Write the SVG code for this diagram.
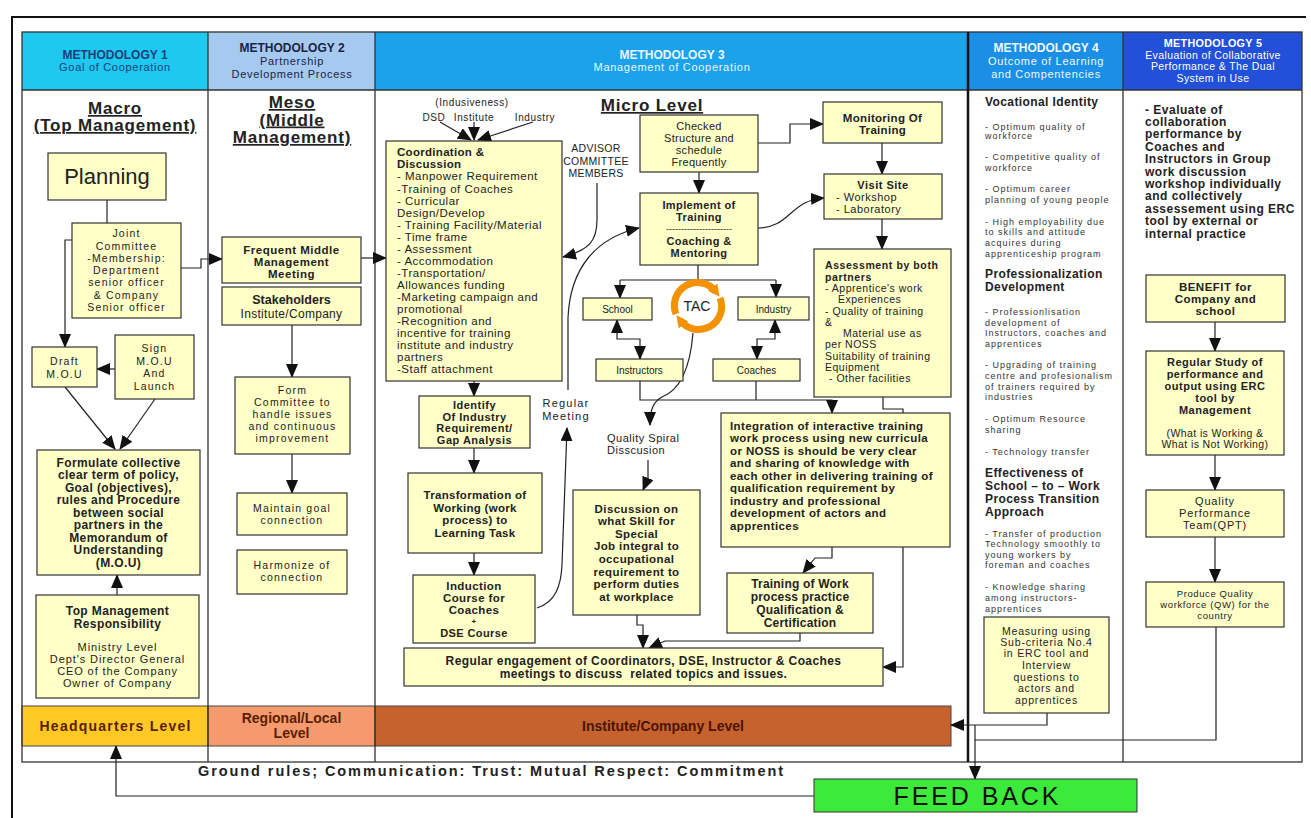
<svg xmlns="http://www.w3.org/2000/svg" width="1311" height="818" viewBox="0 0 1311 818">
<style>
text{font-family:"Liberation Sans",Arial,sans-serif;fill:#222}
.m{text-anchor:middle}
.b{font-weight:bold}
.bx{fill:#FFFFC8;stroke:#333;stroke-width:1.2}
.ln{fill:none;stroke:#222;stroke-width:1.2}
.a{marker-end:url(#ah)}
.a2{marker-start:url(#ah);marker-end:url(#ah)}
.sm{font-size:10.5px;letter-spacing:1.2px}
.c4{font-size:9px;letter-spacing:1px;fill:#333}
.c4h{font-size:12px;font-weight:bold;letter-spacing:0.4px}
.hd{font-size:12px;font-weight:bold}
.hs{font-size:11px;letter-spacing:0.7px}
.big{font-size:17px;font-weight:bold;text-decoration:underline;letter-spacing:0.8px}
.lv{font-size:14px;font-weight:bold;fill:#5a1e05}
.grid{stroke:#333;stroke-width:1.3;fill:none}
</style>
<defs>
<marker id="ah" viewBox="0 0 14 12" refX="13" refY="6" markerWidth="14" markerHeight="12" markerUnits="userSpaceOnUse" orient="auto-start-reverse"><path d="M0,0 L14,6 L0,12 z" fill="#111"/></marker>
<marker id="oh" viewBox="0 0 10 10" refX="5" refY="5" markerWidth="12" markerHeight="12" markerUnits="userSpaceOnUse" orient="auto"><path d="M0,0 L10,5 L0,10 z" fill="#F39200"/></marker>
</defs>
<rect width="1311" height="818" fill="#fff"/>
<path d="M12,818 V17 H1306" stroke="#111" stroke-width="2" fill="none"/>

<g id="table">
<rect x="22" y="32" width="186" height="58" fill="#1EC8EE"/>
<rect x="208" y="32" width="167" height="58" fill="#A6C9F0"/>
<rect x="375" y="32" width="593" height="58" fill="#1AA2EA"/>
<rect x="968" y="32" width="155" height="58" fill="#1B8EE6"/>
<rect x="1123" y="32" width="179" height="58" fill="#2350D8"/>
<rect x="22" y="706" width="186" height="40" fill="#FFC824" stroke="#444"/>
<rect x="208" y="706" width="167" height="40" fill="#F49A6C" stroke="#444"/>
<rect x="375" y="706" width="576" height="40" fill="#C6622D" stroke="#444"/>
<rect x="22" y="32" width="1280" height="730" class="grid"/>
<path class="grid" d="M22,90 H1302 M208,32 V762 M375,32 V762 M1123,32 V762"/>
<path d="M968,32 V762" stroke="#111" stroke-width="2.5"/>
</g>

<g id="headers">
<text class="hd m" x="115" y="59" style="fill:#1d3f7a">METHODOLOGY 1</text>
<text class="hs m" x="115" y="71" style="fill:#1d3f7a">Goal of Cooperation</text>
<text class="hd m" x="292" y="52" style="fill:#1a2346">METHODOLOGY 2</text>
<text class="hs m" x="292" y="65" style="fill:#1a2346">Partnership</text>
<text class="hs m" x="292" y="77.5" style="fill:#1a2346">Development Process</text>
<text class="hd m" x="672" y="59" style="fill:#eaf6ff">METHODOLOGY 3</text>
<text class="hs m" x="672" y="71" style="fill:#eaf6ff">Management of Cooperation</text>
<text class="hd m" x="1046" y="52" style="fill:#eef8ff">METHODOLOGY 4</text>
<text class="hs m" x="1046" y="65" style="fill:#eef8ff">Outcome of Learning</text>
<text class="hs m" x="1046" y="77.5" style="fill:#eef8ff">and Compentencies</text>
<text class="m b" x="1213" y="47" style="font-size:10.8px;fill:#fff;letter-spacing:0.3px">METHODOLOGY 5</text>
<text class="m" style="font-size:10.5px;fill:#fff;letter-spacing:0.4px"><tspan x="1213" y="58.5">Evaluation of Collaborative</tspan><tspan x="1213" y="70">Performance &amp; The Dual</tspan><tspan x="1213" y="81.5">System in Use</tspan></text>
</g>

<g id="level-titles">
<text class="big m" x="115" y="114">Macro</text>
<text class="big m" x="115" y="131">(Top Management)</text>
<text class="big m" x="292" y="108">Meso</text>
<text class="big m" x="292" y="125.5">(Middle</text>
<text class="big m" x="292" y="143">Management)</text>
<text class="big m" x="652" y="111">Micro Level</text>
</g>

<g id="connectors">
<path class="ln" d="M107,200 V223"/>
<path class="ln a" d="M72,240 H65 V347"/>
<path class="ln a" d="M181,268 H201 V259 H222"/>
<path class="ln a" d="M115,369 H97"/>
<path class="ln a" d="M65,387 L115,449"/>
<path class="ln a" d="M155,399 L120,449"/>
<path class="ln a" d="M117,595 V575"/>
<path class="ln a" d="M361,258 H386"/>
<path class="ln a" d="M292,325 V377"/>
<path class="ln a" d="M292,454 V493"/>
<path class="ln a" d="M440,122 L471,140"/>
<path class="ln a" d="M474,122 V140"/>
<path class="ln a" d="M533,122 L478,140"/>
<path class="ln a" d="M474,381 V396"/>
<path class="ln a" d="M474,448 V473"/>
<path class="ln a" d="M474,553 V575"/>
<path class="ln a" d="M597,183 V220 C597,240 590,250 563,257"/>
<path class="ln a" d="M568,390 V318 C570,268 596,238 639,228"/>
<path class="ln a" d="M537,608 C556,602 561,585 562,565 L567,428"/>
<path class="ln a" d="M699,172 V193"/>
<path class="ln a" d="M758,143 H790 V124 H823"/>
<path class="ln a" d="M882,143 V174"/>
<path class="ln a" d="M758,228 C790,228 790,200 824,198"/>
<path class="ln a" d="M882,219 V249"/>
<path class="ln" d="M698,265 V280 M620,280 H776"/>
<path class="ln a" d="M620,280 V298"/>
<path class="ln a" d="M776,280 V297"/>
<path class="ln a2" d="M617,320 V339 H640 V359"/>
<path class="ln a2" d="M775,320 V339 H757 V359"/>
<path class="ln a" d="M640,381 V400 H832 V413"/>
<path class="ln" d="M756,381 V400"/>
<path class="ln a" d="M693,333 C690,370 680,390 662,397 C653,402 650,410 650,425"/>
<path class="ln a" d="M648,460 V478 L643,490"/>
<path class="ln a" d="M637,615 V625 H643 V648"/>
<path class="ln a" d="M800,633 V641 H665 L649,648"/>
<path class="ln a" d="M832,547 V558 H815 L803,573"/>
<path class="ln a" d="M883,397 V409 H903 V667 H883"/>
<path class="ln a" d="M1215,322 V351"/>
<path class="ln a" d="M1215,455 V490"/>
<path class="ln a" d="M1215,537 V582"/>
<path class="ln a" d="M1047,713 V725 H951"/>
<path class="ln a" d="M1216,627 V740 H975 V779"/>
<path class="ln" d="M975,725 V740"/>
<path class="ln a" d="M814,796 H116 V746"/>
</g>

<g id="n-planning"><rect class="bx" x="48" y="153" width="118" height="47"/><text class="m" x="107" y="184" style="font-size:22px">Planning</text></g>
<g id="n-joint"><rect class="bx" x="72" y="223" width="109" height="95"/>
<text class="sm m"><tspan x="126.5" y="237">Joint</tspan><tspan x="126.5" y="250">Committee</tspan><tspan x="126.5" y="262">-Membership:</tspan><tspan x="126.5" y="274">Department</tspan><tspan x="126.5" y="286">senior officer</tspan><tspan x="126.5" y="298.5">&amp; Company</tspan><tspan x="126.5" y="310.5">Senior officer</tspan></text></g>
<g id="n-draft"><rect class="bx" x="32" y="347" width="65" height="40"/><text class="sm m"><tspan x="64.5" y="365">Draft</tspan><tspan x="64.5" y="378">M.O.U</tspan></text></g>
<g id="n-sign"><rect class="bx" x="115" y="335" width="79" height="64"/><text class="sm m"><tspan x="154.5" y="352">Sign</tspan><tspan x="154.5" y="365">M.O.U</tspan><tspan x="154.5" y="377">And</tspan><tspan x="154.5" y="390">Launch</tspan></text></g>
<g id="n-formulate"><rect class="bx" x="37" y="450" width="163" height="125"/>
<text class="m b" style="font-size:12px;letter-spacing:0.4px"><tspan x="118.5" y="466.5">Formulate collective</tspan><tspan x="118.5" y="479">clear term of policy,</tspan><tspan x="118.5" y="491.5">Goal (objectives),</tspan><tspan x="118.5" y="504">rules and Procedure</tspan><tspan x="118.5" y="516.5">between social</tspan><tspan x="118.5" y="529">partners in the</tspan><tspan x="118.5" y="541.5">Memorandum of</tspan><tspan x="118.5" y="554">Understanding</tspan><tspan x="118.5" y="567">(M.O.U)</tspan></text></g>
<g id="n-topmgmt"><rect class="bx" x="36" y="595" width="163" height="103"/>
<text class="m b" style="font-size:12px;letter-spacing:0.4px"><tspan x="117.5" y="614.5">Top Management</tspan><tspan x="117.5" y="627.5">Responsibility</tspan></text>
<text class="m" style="font-size:11px;letter-spacing:0.9px"><tspan x="117.5" y="651">Ministry Level</tspan><tspan x="117.5" y="663">Dept's Director General</tspan><tspan x="117.5" y="675">CEO of the Company</tspan><tspan x="117.5" y="687">Owner of Company</tspan></text></g>

<g id="n-frequent"><rect class="bx" x="222" y="237" width="139" height="46"/><text class="m b" style="font-size:11.5px;letter-spacing:0.5px"><tspan x="291.5" y="254.4">Frequent Middle</tspan><tspan x="291.5" y="266.4">Management</tspan><tspan x="291.5" y="278.4">Meeting</tspan></text></g>
<g id="n-stakeholders"><rect class="bx" x="222" y="287" width="139" height="38"/><text class="m b" x="291.5" y="303.5" style="font-size:12.5px">Stakeholders</text><text class="m" x="291.5" y="317.5" style="font-size:12px;letter-spacing:0.3px">Institute/Company</text></g>
<g id="n-form"><rect class="bx" x="235" y="377" width="115" height="77"/><text class="sm m"><tspan x="292.5" y="394">Form</tspan><tspan x="292.5" y="406">Committee to</tspan><tspan x="292.5" y="418">handle issues</tspan><tspan x="292.5" y="430">and continuous</tspan><tspan x="292.5" y="442">improvement</tspan></text></g>
<g id="n-maintain"><rect class="bx" x="237" y="493" width="110" height="42"/><text class="sm m"><tspan x="292" y="512">Maintain goal</tspan><tspan x="292" y="524">connection</tspan></text></g>
<g id="n-harmonize"><rect class="bx" x="237" y="550" width="110" height="44"/><text class="sm m"><tspan x="292" y="569">Harmonize of</tspan><tspan x="292" y="581">connection</tspan></text></g>

<g id="n-sources"><text class="m" style="font-size:10px;letter-spacing:0.6px"><tspan x="472" y="105.5">(Indusiveness)</tspan><tspan x="434" y="120.5">DSD</tspan><tspan x="474" y="120.5">Institute</tspan><tspan x="535" y="120.5">Industry</tspan></text></g>
<g id="n-coordination"><rect class="bx" x="386" y="141" width="176" height="240"/>
<text class="b" style="font-size:11.5px;letter-spacing:0.3px"><tspan x="397" y="156.3">Coordination &amp;</tspan><tspan x="397" y="168.4">Discussion</tspan></text>
<text style="font-size:11.5px;letter-spacing:0.5px"><tspan x="397" y="180.4">- Manpower Requirement</tspan><tspan x="397" y="192.5">-Training of Coaches</tspan><tspan x="397" y="204.5">- Curricular</tspan><tspan x="397" y="216.6">Design/Develop</tspan><tspan x="397" y="228.7">- Training Facility/Material</tspan><tspan x="397" y="240.7">- Time frame</tspan><tspan x="397" y="252.8">- Assessment</tspan><tspan x="397" y="264.8">- Accommodation</tspan><tspan x="397" y="276.9">-Transportation/</tspan><tspan x="397" y="289">Allowances funding</tspan><tspan x="397" y="301">-Marketing campaign and</tspan><tspan x="397" y="313.1">promotional</tspan><tspan x="397" y="325.1">-Recognition and</tspan><tspan x="397" y="337.2">incentive for training</tspan><tspan x="397" y="349.3">institute and industry</tspan><tspan x="397" y="361.3">partners</tspan><tspan x="397" y="373.4">-Staff attachment</tspan></text></g>
<g id="n-advisor"><text class="m" style="font-size:10.5px;letter-spacing:0.3px"><tspan x="596" y="152">ADVISOR</tspan><tspan x="596" y="165">COMMITTEE</tspan><tspan x="596" y="177">MEMBERS</tspan></text></g>
<g id="n-regular-meeting"><text class="m" style="font-size:11px;letter-spacing:1.2px"><tspan x="566" y="407">Regular</tspan><tspan x="566" y="420">Meeting</tspan></text></g>
<g id="n-identify"><rect class="bx" x="419" y="396" width="111" height="52"/><text class="m b" style="font-size:11px;letter-spacing:0.5px"><tspan x="474.5" y="409">Identify</tspan><tspan x="474.5" y="420.5">Of Industry</tspan><tspan x="474.5" y="432">Requirement/</tspan><tspan x="474.5" y="443.5">Gap Analysis</tspan></text></g>
<g id="n-transformation"><rect class="bx" x="408" y="473" width="134" height="80"/><text class="m b" style="font-size:11.5px;letter-spacing:0.3px"><tspan x="475" y="499">Transformation of</tspan><tspan x="475" y="511.5">Working (work</tspan><tspan x="475" y="524">process) to</tspan><tspan x="475" y="536.5">Learning Task</tspan></text></g>
<g id="n-induction"><rect class="bx" x="413" y="575" width="122" height="68"/><text class="m b" style="font-size:11.5px;letter-spacing:0.4px"><tspan x="474" y="589.5">Induction</tspan><tspan x="474" y="601.5">Course for</tspan><tspan x="474" y="613.5">Coaches</tspan><tspan x="474" y="623.5" style="font-size:8px">+</tspan><tspan x="474" y="636.5" style="font-size:11px">DSE Course</tspan></text></g>
<g id="n-checked"><rect class="bx" x="640" y="115" width="118" height="57"/><text class="m" style="font-size:11px;letter-spacing:0.3px"><tspan x="699" y="130">Checked</tspan><tspan x="699" y="142">Structure and</tspan><tspan x="699" y="154">schedule</tspan><tspan x="699" y="166">Frequently</tspan></text></g>
<g id="n-implement"><rect class="bx" x="640" y="193" width="118" height="72"/><text class="m b" style="font-size:11px;letter-spacing:0.4px"><tspan x="699" y="209">Implement of</tspan><tspan x="699" y="221">Training</tspan><tspan x="699" y="232" style="font-weight:normal;font-size:9px;letter-spacing:0">----------------------</tspan><tspan x="699" y="245">Coaching &amp;</tspan><tspan x="699" y="257">Mentoring</tspan></text></g>
<g id="n-monitoring"><rect class="bx" x="823" y="102" width="119" height="41"/><text class="m b" style="font-size:11.5px;letter-spacing:0.3px"><tspan x="882.5" y="121.5">Monitoring Of</tspan><tspan x="882.5" y="133.5">Training</tspan></text></g>
<g id="n-visit"><rect class="bx" x="824" y="174" width="118" height="45"/><text class="m b" x="883" y="189" style="font-size:11px;letter-spacing:0.5px">Visit Site</text><text style="font-size:11px;letter-spacing:0.5px"><tspan x="836" y="201">- Workshop</tspan><tspan x="836" y="212.5">- Laboratory</tspan></text></g>
<g id="n-assessment"><rect class="bx" x="814" y="249" width="137" height="148"/>
<text class="b" style="font-size:10.5px;letter-spacing:0.6px"><tspan x="825" y="269">Assessment by both</tspan><tspan x="825" y="280.5">partners</tspan></text>
<text style="font-size:10.5px;letter-spacing:0.5px"><tspan x="825" y="292">- Apprentice's work</tspan><tspan x="838" y="303">Experiences</tspan><tspan x="825" y="314.5">- Quality of training</tspan><tspan x="825" y="325.5">&amp;</tspan><tspan x="843" y="337">Material use as</tspan><tspan x="825" y="348">per NOSS</tspan><tspan x="825" y="359.5">Suitability of training</tspan><tspan x="825" y="371">Equipment</tspan><tspan x="829" y="382">- Other facilities</tspan></text></g>
<g id="n-school"><rect class="bx" x="583" y="298" width="69" height="22"/><text class="m" x="617.5" y="313" style="font-size:10px">School</text></g>
<g id="n-industry"><rect class="bx" x="738" y="297" width="71" height="23"/><text class="m" x="773.5" y="312.5" style="font-size:10px">Industry</text></g>
<g id="n-instructors"><rect class="bx" x="596" y="359" width="87" height="22"/><text class="m" x="639.5" y="374" style="font-size:10px">Instructors</text></g>
<g id="n-coaches"><rect class="bx" x="713" y="359" width="87" height="22"/><text class="m" x="756.5" y="374" style="font-size:10px">Coaches</text></g>
<g id="n-tac">
<path d="M676,314 A23,23 0 0 1 716,292" fill="none" stroke="#F39200" stroke-width="7" marker-end="url(#oh)"/>
<path d="M720,298 A23,23 0 0 1 680,320" fill="none" stroke="#F39200" stroke-width="7" marker-end="url(#oh)"/>
<text class="m" x="697" y="311" style="font-size:14px">TAC</text></g>
<g id="n-quality-spiral"><text style="font-size:11px;letter-spacing:0.5px"><tspan x="607" y="441.5">Quality Spiral</tspan><tspan x="607" y="454">Disscusion</tspan></text></g>
<g id="n-discussion"><rect class="bx" x="573" y="490" width="127" height="125"/><text class="m b" style="font-size:11.5px;letter-spacing:0.4px"><tspan x="636.5" y="512.5">Discussion on</tspan><tspan x="636.5" y="525.1">what Skill for</tspan><tspan x="636.5" y="537.7">Special</tspan><tspan x="636.5" y="550.3">Job integral to</tspan><tspan x="636.5" y="562.9">occupational</tspan><tspan x="636.5" y="575.5">requirement to</tspan><tspan x="636.5" y="588.1">perform duties</tspan><tspan x="636.5" y="600.7">at workplace</tspan></text></g>
<g id="n-integration"><rect class="bx" x="721" y="413" width="229" height="134"/><text class="b" style="font-size:11.5px;letter-spacing:0.4px"><tspan x="730" y="429.5">Integration of interactive training</tspan><tspan x="730" y="442">work process using new curricula</tspan><tspan x="730" y="454.5">or NOSS is should be very clear</tspan><tspan x="730" y="467">and sharing of knowledge with</tspan><tspan x="730" y="479.5">each other in delivering training of</tspan><tspan x="730" y="492">qualification requirement by</tspan><tspan x="730" y="504.5">industry and professional</tspan><tspan x="730" y="517">development of actors and</tspan><tspan x="730" y="529.5">apprentices</tspan></text></g>
<g id="n-training-work"><rect class="bx" x="727" y="573" width="146" height="60"/><text class="m b" style="font-size:12px;letter-spacing:0.2px"><tspan x="800" y="587.5">Training of Work</tspan><tspan x="800" y="600.5">process practice</tspan><tspan x="800" y="613.5">Qualification &amp;</tspan><tspan x="800" y="626.5">Certification</tspan></text></g>
<g id="n-regular-engagement"><rect class="bx" x="404" y="648" width="479" height="38"/><text class="m b" style="font-size:12px;letter-spacing:0.4px" xml:space="preserve"><tspan x="643.5" y="664.5">Regular engagement of Coordinators, DSE, Instructor &amp; Coaches</tspan><tspan x="643.5" y="678">meetings to discuss  related topics and issues.</tspan></text></g>

<g id="n-col4">
<text class="c4h" x="985" y="106">Vocational Identity</text>
<text class="c4"><tspan x="985" y="130">- Optimum quality of</tspan><tspan x="985" y="139">workforce</tspan><tspan x="985" y="160">- Competitive quality of</tspan><tspan x="985" y="171">workforce</tspan><tspan x="985" y="191.6">- Optimum career</tspan><tspan x="985" y="203">planning of young people</tspan><tspan x="985" y="224.5">- High employability due</tspan><tspan x="985" y="235">to skills and attitude</tspan><tspan x="985" y="245.5">acquires during</tspan><tspan x="985" y="256.5">apprenticeship program</tspan></text>
<text class="c4h"><tspan x="985" y="278">Professionalization</tspan><tspan x="985" y="291">Development</tspan></text>
<text class="c4"><tspan x="985" y="315">- Professionlisation</tspan><tspan x="985" y="325.5">development of</tspan><tspan x="985" y="336">Instructors, coaches and</tspan><tspan x="985" y="346.5">apprentices</tspan><tspan x="985" y="368.3">- Upgrading of training</tspan><tspan x="985" y="379">centre and profesionalism</tspan><tspan x="985" y="389.5">of trainers required by</tspan><tspan x="985" y="400">industries</tspan><tspan x="985" y="421.6">- Optimum Resource</tspan><tspan x="985" y="433">sharing</tspan><tspan x="985" y="455">- Technology transfer</tspan></text>
<text class="c4h"><tspan x="985" y="477.3">Effectiveness of</tspan><tspan x="985" y="490.3">School – to – Work</tspan><tspan x="985" y="503">Process Transition</tspan><tspan x="985" y="515.6">Approach</tspan></text>
<text class="c4"><tspan x="985" y="536.6">- Transfer of production</tspan><tspan x="985" y="547">Technology smoothly to</tspan><tspan x="985" y="557.5">young workers by</tspan><tspan x="985" y="568">foreman and coaches</tspan><tspan x="985" y="590">- Knowledge sharing</tspan><tspan x="985" y="601">among instructors-</tspan><tspan x="985" y="611.5">apprentices</tspan></text>
</g>
<g id="n-measuring"><rect class="bx" x="984" y="617" width="125" height="96"/><text class="m" style="font-size:10.5px;letter-spacing:0.8px"><tspan x="1046.5" y="634.7">Measuring using</tspan><tspan x="1046.5" y="645.7">Sub-criteria No.4</tspan><tspan x="1046.5" y="657.3">in ERC tool and</tspan><tspan x="1046.5" y="669">Interview</tspan><tspan x="1046.5" y="680.7">questions to</tspan><tspan x="1046.5" y="691.7">actors and</tspan><tspan x="1046.5" y="704">apprentices</tspan></text></g>

<g id="n-col5"><text class="b" style="font-size:12px;letter-spacing:0.5px"><tspan x="1145" y="113.6">- Evaluate of</tspan><tspan x="1145" y="126">collaboration</tspan><tspan x="1145" y="138.4">performance by</tspan><tspan x="1145" y="150.8">Coaches and</tspan><tspan x="1145" y="163.2">Instructors in Group</tspan><tspan x="1145" y="175.6">work discussion</tspan><tspan x="1145" y="188">workshop individually</tspan><tspan x="1145" y="200.4">and collectively</tspan><tspan x="1145" y="212.8">assessement using ERC</tspan><tspan x="1145" y="225.2">tool by external or</tspan><tspan x="1145" y="237.6">internal practice</tspan></text></g>
<g id="n-benefit"><rect class="bx" x="1146" y="275" width="139" height="47"/><text class="m b" style="font-size:11.5px;letter-spacing:0.5px"><tspan x="1215.5" y="291">BENEFIT for</tspan><tspan x="1215.5" y="303">Company and</tspan><tspan x="1215.5" y="315">school</tspan></text></g>
<g id="n-regular-study"><rect class="bx" x="1146" y="351" width="138" height="104"/><text class="m b" style="font-size:11px;letter-spacing:0.5px"><tspan x="1215" y="366.3">Regular Study of</tspan><tspan x="1215" y="378">performance and</tspan><tspan x="1215" y="390">output using ERC</tspan><tspan x="1215" y="401.6">tool by</tspan><tspan x="1215" y="413.6">Management</tspan></text><text class="m" style="font-size:10.5px;letter-spacing:0.4px"><tspan x="1215" y="436.5">(What is Working &amp;</tspan><tspan x="1215" y="448">What is Not Working)</tspan></text></g>
<g id="n-qpt"><rect class="bx" x="1146" y="490" width="138" height="47"/><text class="m" style="font-size:11px;letter-spacing:0.8px"><tspan x="1215" y="505">Quality</tspan><tspan x="1215" y="517">Performance</tspan><tspan x="1215" y="529">Team(QPT)</tspan></text></g>
<g id="n-produce"><rect class="bx" x="1146" y="582" width="138" height="45"/><text class="m" style="font-size:9.5px;letter-spacing:0.6px"><tspan x="1215" y="597">Produce Quality</tspan><tspan x="1215" y="608">workforce (QW) for the</tspan><tspan x="1215" y="619">country</tspan></text></g>

<g id="n-levels">
<text class="lv m" x="115" y="731" textLength="151">Headquarters Level</text>
<text class="lv m"><tspan x="291.5" y="723">Regional/Local</tspan><tspan x="291.5" y="738">Level</tspan></text>
<text class="lv m" x="663" y="731" style="fill:#4a1605">Institute/Company Level</text>
</g>
<g id="n-ground-rules"><text class="b" x="198" y="776" textLength="585" style="font-size:14.5px">Ground rules; Communication: Trust: Mutual  Respect: Commitment</text></g>
<g id="n-feedback"><rect x="814" y="779" width="323" height="33" fill="#3BEA3B" stroke="#333" stroke-width="1"/><text class="m" x="976" y="805" textLength="165" style="font-size:25px;fill:#111">FEED BACK</text></g>
</svg>
